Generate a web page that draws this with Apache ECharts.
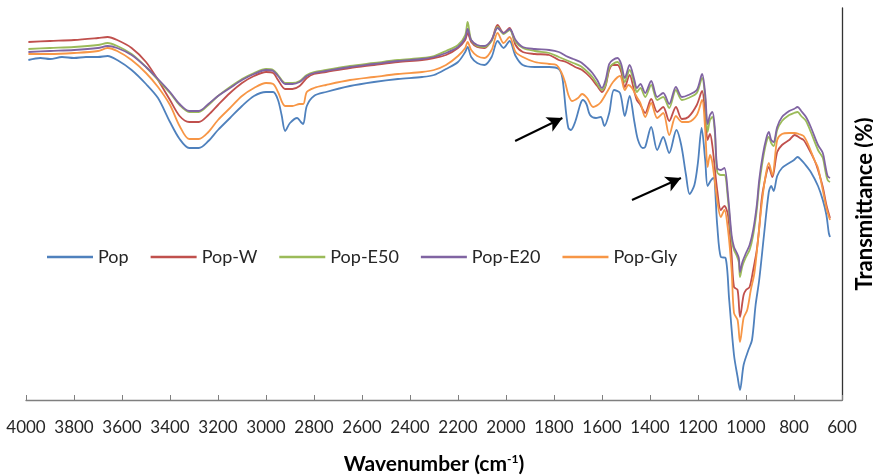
<!DOCTYPE html>
<html>
<head>
<meta charset="utf-8">
<title>FTIR spectra</title>
<script src="https://cdn.jsdelivr.net/npm/echarts@6/dist/echarts.min.js"></script>
<style>
  html, body { margin: 0; padding: 0; background: #fff; }
  #chart { width: 873px; height: 475px; }
</style>
</head>
<body>
<div id="chart"></div>
<script>
// [wavenumber (cm-1), transmittance]
const pop = [
  [3990, 85], [3940, 85.5], [3900, 85.25], [3850, 85.75], [3800, 85.5], [3750, 85.75], [3700, 85.75],
  [3660, 86], [3620, 85], [3560, 82.5], [3500, 79], [3450, 75.5], [3400, 69.5], [3360, 65.25],
  [3320, 63], [3280, 63], [3240, 64.75], [3200, 67.5], [3150, 70.5], [3100, 73.5], [3050, 76],
  [3000, 77], [2970, 77], [2950, 75], [2935, 71.25], [2920, 67.25], [2900, 69.25], [2870, 70.5],
  [2855, 69.5], [2845, 69], [2830, 73.5], [2800, 76], [2750, 77], [2650, 78.5], [2550, 79.5],
  [2450, 80.25], [2350, 80.75], [2300, 81.25], [2250, 82.75], [2200, 84.5], [2170, 87], [2160, 88.25],
  [2145, 85.75], [2120, 84.25], [2090, 83.75], [2060, 85.75], [2035, 89.75], [2010, 88], [1985, 89.75],
  [1960, 86], [1930, 83.75], [1880, 83.25], [1820, 83.25], [1780, 82.75], [1765, 80.5], [1750, 72],
  [1740, 68], [1730, 67.5], [1712, 69.5], [1690, 74], [1680, 75], [1665, 74], [1650, 71.25],
  [1625, 70.5], [1605, 70.75], [1590, 68.5], [1570, 71.75], [1550, 77.5], [1525, 76.75], [1505, 71],
  [1485, 76], [1465, 69.5], [1450, 65], [1430, 63], [1420, 63.25], [1395, 68.25], [1370, 62.5],
  [1345, 65.75], [1320, 61.75], [1290, 67.5], [1270, 63.75], [1250, 56.25], [1235, 51.5], [1215, 53.75],
  [1200, 59.5], [1185, 68], [1170, 60], [1160, 53.5], [1145, 55], [1135, 55.5], [1120, 43.75],
  [1105, 35.75], [1085, 35.5], [1070, 25], [1050, 11.25], [1035, 5.75], [1025, 2.5], [1010, 8.75],
  [990, 12.5], [975, 15], [960, 23.75], [945, 30], [925, 41.25], [905, 52], [895, 53.5], [885, 52.25],
  [870, 56], [850, 58], [820, 59.25], [800, 60], [785, 60.75], [770, 60], [755, 59], [730, 57],
  [700, 53.5], [680, 50], [665, 46.25], [655, 41.75], [650, 40.75]
];

const popW = [
  [3990, 89.5], [3900, 89.75], [3800, 90], [3700, 90.5], [3660, 90.75], [3620, 90], [3560, 88],
  [3500, 84.5], [3450, 80], [3400, 75], [3360, 71], [3320, 69.5], [3280, 69.5], [3240, 71.25],
  [3200, 73.75], [3150, 76.75], [3100, 79.25], [3050, 81], [3000, 82], [2970, 81.75], [2950, 80],
  [2920, 77.75], [2890, 77.75], [2860, 78.5], [2830, 80.5], [2800, 81.5], [2750, 82], [2650, 83],
  [2550, 83.75], [2450, 84.5], [2350, 85], [2300, 85.5], [2250, 86.25], [2200, 88], [2170, 90],
  [2160, 91.75], [2145, 89.5], [2120, 88.25], [2090, 88], [2060, 90], [2035, 93.75], [2010, 91.75],
  [1985, 93], [1960, 88.75], [1930, 87], [1880, 86.5], [1820, 86.25], [1780, 85], [1750, 84.5],
  [1712, 83.25], [1683, 82.5], [1650, 80.75], [1620, 78.5], [1600, 77], [1585, 78.5], [1570, 82.5],
  [1555, 83.75], [1535, 83.75], [1520, 82], [1505, 78.25], [1485, 81.25], [1465, 77], [1455, 75],
  [1440, 73.75], [1420, 71.75], [1395, 75.25], [1370, 72], [1345, 73.25], [1320, 69.75], [1292, 73.25],
  [1267, 70.25], [1240, 70.75], [1205, 73.75], [1183, 77.25], [1170, 71.25], [1160, 65], [1150, 66.5],
  [1140, 63.5], [1120, 52.5], [1105, 47.5], [1090, 48.5], [1075, 46.25], [1060, 36.25], [1050, 28.25],
  [1035, 27.5], [1025, 20.75], [1010, 26.25], [1000, 27.5], [985, 28.25], [970, 32.5], [955, 37.5],
  [945, 43], [935, 50], [925, 53.75], [905, 58.25], [890, 55.75], [870, 62], [850, 63.75], [820, 65],
  [797, 66.25], [775, 65.5], [760, 65], [740, 63], [715, 60], [700, 57.5], [680, 53.25], [665, 48.75],
  [650, 45.5]
];

const popE50 = [
  [3990, 87.75], [3900, 88], [3800, 88.25], [3700, 88.75], [3660, 89.25], [3620, 88.5], [3560, 86.5],
  [3500, 83.25], [3450, 80], [3400, 76.75], [3360, 73.75], [3320, 72], [3280, 72], [3240, 73.75],
  [3200, 76], [3150, 78.25], [3100, 80.25], [3050, 81.75], [3000, 82.75], [2970, 82.5], [2950, 81.25],
  [2920, 79.25], [2890, 79.25], [2860, 79.75], [2830, 81.25], [2800, 82], [2750, 82.5], [2650, 83.5],
  [2550, 84.25], [2450, 85], [2350, 85.5], [2300, 86], [2250, 87.25], [2200, 88.75], [2170, 91.25],
  [2160, 94.5], [2145, 90], [2120, 88.5], [2090, 88.25], [2060, 89.75], [2035, 93.25], [2010, 91.5],
  [1985, 92.5], [1960, 89.5], [1930, 88], [1880, 87.25], [1820, 86.75], [1780, 85.75], [1750, 85],
  [1720, 84.25], [1690, 83.5], [1660, 82], [1640, 80.75], [1620, 79], [1600, 77.5], [1585, 78.75],
  [1570, 83], [1555, 84], [1535, 84.5], [1520, 83], [1505, 79.5], [1485, 82.5], [1465, 79], [1455, 77],
  [1440, 78], [1420, 75.75], [1395, 78.75], [1370, 75], [1345, 75.75], [1320, 73], [1292, 77.5],
  [1267, 75], [1240, 75.5], [1205, 76.75], [1183, 80.5], [1170, 75.5], [1160, 67], [1150, 70],
  [1140, 70.75], [1130, 67], [1120, 57], [1105, 56.25], [1090, 56.25], [1075, 50], [1060, 40],
  [1050, 37.5], [1040, 36.25], [1030, 34.5], [1025, 30.75], [1015, 33.5], [1000, 35.75], [985, 37.5],
  [970, 41.25], [955, 47.5], [945, 53.75], [930, 60], [915, 64.5], [905, 65.75], [895, 64.25],
  [885, 63.5], [870, 67.5], [850, 69.75], [820, 71.25], [800, 71.75], [785, 72], [770, 71],
  [750, 69.75], [730, 67], [700, 62.5], [680, 60.5], [670, 57.5], [660, 55], [650, 54.5]
];

const popE20 = [
  [3990, 87], [3900, 87.25], [3800, 87.5], [3700, 88], [3660, 88.5], [3620, 88], [3560, 86.25],
  [3500, 83.25], [3450, 80.25], [3400, 77], [3360, 74], [3320, 72.25], [3280, 72.25], [3240, 74],
  [3200, 76], [3150, 78], [3100, 80], [3050, 81.5], [3000, 82.5], [2970, 82.25], [2950, 81],
  [2920, 79], [2890, 79], [2860, 79.5], [2830, 81], [2800, 81.75], [2750, 82.25], [2650, 83.25],
  [2550, 84], [2450, 84.75], [2350, 85.25], [2300, 85.75], [2250, 86.75], [2200, 88.25], [2170, 90.5],
  [2160, 92.75], [2145, 90], [2120, 88.75], [2090, 88.5], [2060, 90], [2035, 93], [2010, 91.75],
  [1985, 92.75], [1960, 90], [1930, 88.25], [1880, 87.75], [1820, 87.5], [1780, 87], [1750, 86],
  [1720, 85.25], [1690, 84.5], [1660, 83], [1640, 81.75], [1620, 80], [1600, 78], [1585, 80],
  [1570, 84], [1555, 85], [1535, 85.5], [1520, 84], [1505, 80.5], [1485, 83.75], [1465, 80], [1455, 78],
  [1440, 79], [1420, 76.75], [1395, 79.75], [1370, 75.75], [1345, 76.75], [1320, 74], [1292, 78.25],
  [1267, 75.75], [1240, 76.25], [1205, 77.5], [1183, 81.5], [1170, 76.5], [1160, 69], [1150, 71.25],
  [1140, 72], [1130, 68], [1120, 58], [1105, 57.5], [1090, 58], [1075, 51.25], [1060, 41.25],
  [1050, 38.25], [1040, 37], [1030, 35.5], [1025, 32], [1015, 34.5], [1000, 36.75], [985, 38.75],
  [970, 42.5], [955, 48.75], [945, 55], [930, 61.25], [915, 65.5], [905, 67], [895, 65], [885, 64.5],
  [870, 68.25], [850, 70.75], [820, 72.25], [800, 72.75], [785, 73.25], [770, 72.25], [750, 70.75],
  [730, 68.25], [700, 63.75], [680, 61.75], [670, 58.75], [660, 56], [650, 55.5]
];

const popGly = [
  [3990, 86.5], [3900, 86.5], [3800, 86.75], [3700, 87.25], [3660, 88], [3620, 87.25], [3560, 85],
  [3500, 81.75], [3450, 78.25], [3400, 73.75], [3360, 68.5], [3320, 65.25], [3280, 65.25], [3240, 67],
  [3200, 70], [3150, 73], [3100, 76], [3050, 78], [3000, 79.25], [2970, 79], [2950, 77], [2920, 73.5],
  [2890, 73.5], [2860, 74], [2845, 74], [2830, 77], [2800, 78], [2750, 78.75], [2650, 80], [2550, 80.75],
  [2450, 81.5], [2350, 82], [2300, 82.5], [2250, 83.75], [2200, 86], [2170, 88], [2160, 89.5],
  [2145, 87.5], [2120, 86], [2090, 85.5], [2060, 87.5], [2035, 91.75], [2010, 89.25], [1985, 90.75],
  [1960, 87], [1930, 85.75], [1880, 84.5], [1820, 84], [1790, 83.75], [1770, 82], [1754, 79.5],
  [1740, 76.25], [1725, 74.75], [1700, 75.5], [1683, 76.5], [1662, 75.5], [1637, 73.25], [1608, 74.25],
  [1579, 77], [1554, 79.5], [1525, 81], [1505, 77.5], [1490, 78.75], [1475, 78], [1455, 75.75],
  [1440, 74.25], [1420, 70.75], [1395, 74.25], [1370, 70.5], [1345, 71.75], [1320, 66.25], [1292, 71],
  [1267, 69.5], [1240, 69.5], [1205, 71.25], [1183, 75], [1170, 67.5], [1160, 58.25], [1150, 61.25],
  [1140, 59.25], [1120, 50], [1105, 45.75], [1090, 47.5], [1075, 42.5], [1060, 32.5], [1050, 21.75],
  [1035, 20], [1025, 14.5], [1010, 20.5], [995, 22.5], [980, 27.5], [965, 31.75], [950, 40],
  [935, 48.75], [920, 55.5], [905, 59.25], [890, 56.25], [870, 65], [850, 66.5], [820, 66.75],
  [797, 66.75], [780, 66.5], [760, 66], [740, 63.75], [715, 60], [700, 58], [680, 52.5], [665, 48],
  [650, 45]
];

const seriesNames = ['Pop', 'Pop-W', 'Pop-E50', 'Pop-E20', 'Pop-Gly'];
const seriesData = [pop, popW, popE50, popE20, popGly];
const colors = ['#4F81BD', '#C0504D', '#9BBB59', '#8064A2', '#F79646'];

// arrows pointing at the bands: [from, to] in [wavenumber, transmittance]
const arrows = [
  [[1962, 64.75], [1765, 70.5]],
  [[1475, 50], [1271, 55.5]]
];

const chart = echarts.init(document.getElementById('chart'));

const series = seriesNames.map((name, i) => ({
  name: name,
  type: 'line',
  data: seriesData[i],
  showSymbol: false,
  smooth: 0.3,
  lineStyle: { width: 1.8, color: colors[i] },
  itemStyle: { color: colors[i] },
  z: 2 + i
}));

// arrows go on the first series
series[0].markLine = {
  silent: true,
  symbol: ['none', 'arrow'],
  symbolSize: [12, 15],
  label: { show: false },
  lineStyle: { color: '#000', width: 2, type: 'solid' },
  data: arrows.map((a) => [{ coord: a[0] }, { coord: a[1] }])
};

chart.setOption({
  animation: false,
  color: colors,
  grid: { left: 26, right: 31, top: 8, bottom: 75, containLabel: false, outerBoundsMode: 'none' },
  legend: {
    data: seriesNames,
    left: 42,
    top: 243,
    icon: 'rect',
    itemWidth: 46,
    itemHeight: 2.5,
    itemGap: 22,
    textStyle: { fontFamily: 'Lato', fontSize: 18, color: '#262626' }
  },
  xAxis: {
    type: 'value',
    inverse: true,
    min: 600,
    max: 4000,
    interval: 200,
    name: 'Wavenumber (cm{sup|-1})',
    nameLocation: 'middle',
    nameGap: 53,
    nameTextStyle: {
      fontFamily: 'Lato', fontSize: 21, fontWeight: 'bold', color: '#000',
      rich: { sup: { fontFamily: 'Lato', fontSize: 12, fontWeight: 'bold', verticalAlign: 'top', padding: [0, 0, 10, 0] } }
    },
    axisLine: { show: true, lineStyle: { color: '#7f7f7f', width: 1.3 } },
    axisTick: { show: true, inside: true, length: 5, lineStyle: { color: '#7f7f7f' } },
    axisLabel: { fontFamily: 'Lato', fontSize: 17, color: '#262626', margin: 19, formatter: (v) => String(v) },
    splitLine: { show: false }
  },
  yAxis: {
    type: 'value',
    position: 'right',
    min: 0,
    max: 98,
    name: 'Transmittance (%)',
    nameLocation: 'middle',
    nameRotate: 90,
    nameGap: 12,
    nameTextStyle: { fontFamily: 'Lato', fontSize: 22, fontWeight: 'bold', color: '#000' },
    axisLine: { show: true, lineStyle: { color: '#333', width: 1.3 } },
    axisTick: { show: false },
    axisLabel: { show: false },
    splitLine: { show: false }
  },
  series: series
});
</script>
</body>
</html>
